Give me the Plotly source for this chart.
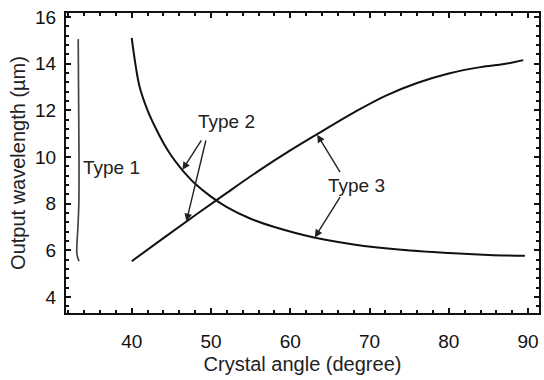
import plotly.graph_objects as go

# Phase-matching tuning curves: output wavelength vs. crystal angle
type1_angle = [33.25, 33.3, 33.35, 33.33, 33.2, 33.08, 33.1, 33.35]
type1_wl = [15.05, 12.5, 10.0, 8.0, 6.9, 6.2, 5.8, 5.53]

falling_angle = [40.0, 40.5, 41.0, 42.0, 43.0, 44.0, 45.0, 46.0, 47.0, 48.0, 50.0, 52.0,
                 55.0, 58.0, 63.0, 68.0, 74.0, 80.0, 85.0, 89.6]
falling_wl = [15.1, 13.9, 13.0, 12.0, 11.25, 10.6, 10.05, 9.6, 9.2, 8.85, 8.3, 7.85,
              7.35, 7.0, 6.55, 6.25, 6.02, 5.88, 5.8, 5.76]

rising_angle = [40.0, 44.0, 48.0, 52.0, 56.0, 60.0, 64.0, 68.0, 72.0, 76.0, 80.0, 84.0, 87.0, 89.4]
rising_wl = [5.53, 6.52, 7.5, 8.46, 9.4, 10.28, 11.1, 11.9, 12.62, 13.17, 13.58, 13.85, 13.98, 14.15]

x_ticks = [40, 50, 60, 70, 80, 90]
y_ticks = [4, 6, 8, 10, 12, 14, 16]

# Curve labels: (text, x, y)
labels = [("Type 1", 37.5, 9.53), ("Type 2", 51.9, 11.53), ("Type 3", 68.3, 8.77)]
# Pointer arrows: (tail x, tail y, tip x, tip y)
arrows = [
    (48.9, 10.77, 46.4, 9.45),
    (49.4, 10.77, 46.9, 7.24),
    (66.4, 9.28, 63.4, 10.95),
    (66.4, 8.34, 63.1, 6.55),
]

FONT = "Liberation Sans, Arial, sans-serif"

fig = go.Figure()
fig.add_trace(go.Scatter(x=type1_angle, y=type1_wl, mode="lines",
                         line=dict(color="#444444", width=1.7, shape="spline")))
fig.add_trace(go.Scatter(x=falling_angle, y=falling_wl, mode="lines",
                         line=dict(color="#111111", width=2, shape="spline")))
fig.add_trace(go.Scatter(x=rising_angle, y=rising_wl, mode="lines",
                         line=dict(color="#111111", width=2, shape="spline")))

for text, x, y in labels:
    fig.add_annotation(x=x, y=y, text=text, showarrow=False,
                       font=dict(family=FONT, size=19, color="#222222"))

for tx, ty, hx, hy in arrows:
    fig.add_annotation(x=hx, y=hy, ax=tx, ay=ty, axref="x", ayref="y",
                       text="", showarrow=True, arrowhead=2, arrowsize=1.1,
                       arrowwidth=1.4, arrowcolor="#222222")

axis_common = dict(
    showline=True, linecolor="#111111", linewidth=2, mirror="ticks",
    ticks="inside", ticklen=5, tickwidth=1.5, tickcolor="#111111",
    showgrid=False, zeroline=False,
    tickfont=dict(family=FONT, size=19, color="#111111"),
)

fig.update_xaxes(
    range=[31.71, 91.38], tickvals=x_ticks, ticktext=[str(v) for v in x_ticks],
    minor=dict(dtick=2, tick0=30, ticks="inside", ticklen=3, tickcolor="#111111"),
    title=dict(text="Crystal angle (degree)", font=dict(family=FONT, size=20, color="#222222"),
               standoff=6),
    ticklabelstandoff=10,
    **axis_common,
)
fig.update_yaxes(
    range=[3.31, 16.17], tickvals=y_ticks, ticktext=[str(v) for v in y_ticks],
    minor=dict(dtick=0.4, tick0=4, ticks="inside", ticklen=3, tickcolor="#111111"),
    title=dict(text="Output wavelength (µm)", font=dict(family=FONT, size=20, color="#222222"),
               standoff=4),
    ticklabelstandoff=4,
    **axis_common,
)

fig.update_layout(
    width=544, height=380,
    margin=dict(l=66, r=3, t=13, b=67),
    paper_bgcolor="white", plot_bgcolor="white",
    showlegend=False,
)

fig.write_html("out.html")
